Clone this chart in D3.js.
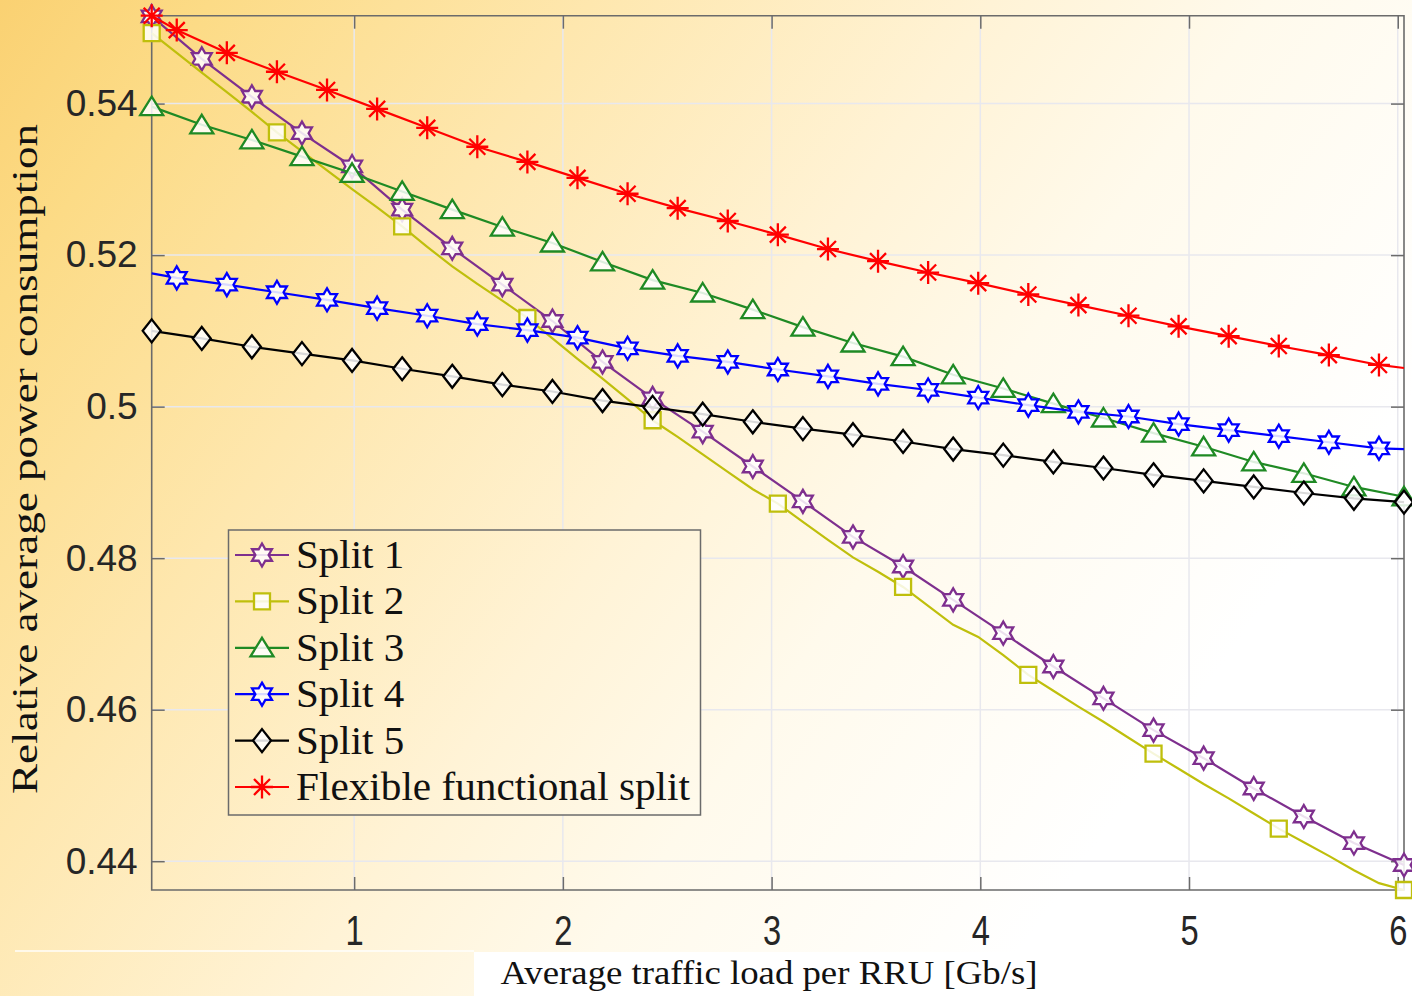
<!DOCTYPE html>
<html>
<head>
<meta charset="utf-8">
<script src="https://cdn.jsdelivr.net/npm/d3@7"></script>
<style>
  html, body { margin: 0; padding: 0; background: #fff; }
  svg { display: block; }
</style>
</head>
<body>
<svg id="chart"></svg>
<script>
const W = 1412;
const H = 996;

// x positions of the samples (Gb/s)
const xGrid = [0.03, 0.27, 0.51, 0.75, 0.99, 1.23, 1.47, 1.71, 1.95, 2.19, 2.43, 2.67, 2.91,
  3.15, 3.39, 3.63, 3.87, 4.11, 4.35, 4.59, 4.83, 5.07, 5.31, 5.55, 5.79, 6.03];
const xHalf = [0.03, 0.15, 0.39, 0.63, 0.87, 1.11, 1.35, 1.59, 1.83, 2.07, 2.31, 2.55, 2.79,
  3.03, 3.27, 3.51, 3.75, 3.99, 4.23, 4.47, 4.71, 4.95, 5.19, 5.43, 5.67, 5.91, 6.03];
const xFine = [0.03, 0.15, 0.27, 0.39, 0.51, 0.63, 0.75, 0.87, 0.99, 1.11, 1.23, 1.35, 1.47,
  1.59, 1.71, 1.83, 1.95, 2.07, 2.19, 2.31, 2.43, 2.55, 2.67, 2.79, 2.91, 3.03, 3.15, 3.27,
  3.39, 3.51, 3.63, 3.75, 3.87, 3.99, 4.11, 4.23, 4.35, 4.47, 4.59, 4.71, 4.83, 4.95, 5.07,
  5.19, 5.31, 5.43, 5.55, 5.67, 5.79, 5.91, 6.03];

const split1 = [0.5515, 0.5459, 0.5409, 0.5361, 0.5317, 0.5260, 0.5209, 0.5161, 0.5113, 0.5059,
  0.5011, 0.4967, 0.4921, 0.4875, 0.4828, 0.4789, 0.4745, 0.4701, 0.4657, 0.4615, 0.4573,
  0.4536, 0.4496, 0.4459, 0.4424, 0.4395];
const split2 = [0.5493, 0.5467, 0.5441, 0.5415, 0.5389, 0.5362, 0.5337, 0.5312, 0.5287, 0.5263,
  0.5238, 0.5211, 0.5185, 0.5162, 0.5140, 0.5117, 0.5090, 0.5063, 0.5037, 0.5010, 0.4982,
  0.4960, 0.4937, 0.4914, 0.4891, 0.4872, 0.4848, 0.4824, 0.4801, 0.4782, 0.4762, 0.4737,
  0.4712, 0.4696, 0.4672, 0.4646, 0.4625, 0.4604, 0.4584, 0.4563, 0.4542, 0.4522, 0.4502,
  0.4483, 0.4463, 0.4443, 0.4425, 0.4407, 0.4388, 0.4371, 0.4362];
const split3 = [0.5396, 0.5372, 0.5352, 0.5330, 0.5308, 0.5284, 0.5260, 0.5237, 0.5216, 0.5191,
  0.5167, 0.5150, 0.5128, 0.5105, 0.5084, 0.5066, 0.5042, 0.5024, 0.5004, 0.4985, 0.4965,
  0.4947, 0.4927, 0.4912, 0.4894, 0.4881];
const split4 = [0.5176, 0.5170, 0.5161, 0.5151, 0.5141, 0.5130, 0.5120, 0.5109, 0.5101, 0.5091,
  0.5077, 0.5067, 0.5059, 0.5049, 0.5040, 0.5030, 0.5022, 0.5012, 0.5002, 0.4993, 0.4987,
  0.4977, 0.4969, 0.4961, 0.4953, 0.4945, 0.4944];
const split5 = [0.5100, 0.5090, 0.5079, 0.5070, 0.5061, 0.5050, 0.5040, 0.5029, 0.5020, 0.5008,
  0.4999, 0.4990, 0.4980, 0.4971, 0.4963, 0.4954, 0.4944, 0.4936, 0.4927, 0.4919, 0.4910,
  0.4902, 0.4894, 0.4886, 0.4879, 0.4874];
const flexible = [0.5516, 0.5497, 0.5467, 0.5442, 0.5418, 0.5393, 0.5368, 0.5343, 0.5323, 0.5302,
  0.5281, 0.5262, 0.5245, 0.5227, 0.5208, 0.5192, 0.5177, 0.5163, 0.5148, 0.5134, 0.5120,
  0.5106, 0.5093, 0.5080, 0.5068, 0.5055, 0.5051];

const seriesNames = ['Split 1', 'Split 2', 'Split 3', 'Split 4', 'Split 5', 'Flexible functional split'];
const xTicks = [1, 2, 3, 4, 5, 6];
const yTicks = [0.44, 0.46, 0.48, 0.5, 0.52, 0.54];

// styling per series: which markers are shown
const series = [
  {name: seriesNames[0], xs: xGrid, ys: split1, color: '#7e2f8e', sym: 'hexagram', mark: i => true},
  {name: seriesNames[1], xs: xFine, ys: split2, color: '#bfbf0c', sym: 'square', mark: i => i % 5 == 0},
  {name: seriesNames[2], xs: xGrid, ys: split3, color: '#1f8a24', sym: 'triangle', mark: i => true},
  {name: seriesNames[3], xs: xHalf, ys: split4, color: '#0000ff', sym: 'hexagram', mark: i => i > 0 && i < xHalf.length - 1},
  {name: seriesNames[4], xs: xGrid, ys: split5, color: '#000000', sym: 'diamond', mark: i => true},
  {name: seriesNames[5], xs: xHalf, ys: flexible, color: '#ff0000', sym: 'asterisk', mark: i => i < xHalf.length - 1}
];

const plotL = 151.7, plotR = 1404, plotT = 15.7, plotB = 890;

const x = d3.scaleLinear().domain([0.03, 6.03]).range([plotL, plotR]);
const y = d3.scaleLinear().domain([0.4362, 0.5516]).range([plotB, plotT]);

const svg = d3.select('#chart').attr('width', W).attr('height', H);

// background gradient
const defs = svg.append('defs');
const grad = defs.append('linearGradient')
  .attr('id', 'bg')
  .attr('gradientUnits', 'userSpaceOnUse')
  .attr('x1', 0).attr('y1', 0).attr('x2', W).attr('y2', H);
[[0, '#fad172'], [0.1, '#fcdb86'], [0.28, '#fee7ae'], [0.47, '#fff3d6'], [0.6, '#fffaec'], [0.8, '#ffffff']]
  .forEach(s => grad.append('stop').attr('offset', s[0]).attr('stop-color', s[1]));

svg.append('rect').attr('width', W).attr('height', H).attr('fill', 'url(#bg)');
svg.append('rect').attr('x', 474).attr('y', 952).attr('width', W - 474).attr('height', H - 952).attr('fill', '#fff');
svg.append('line').attr('x1', 15).attr('x2', 474).attr('y1', 951).attr('y2', 951)
  .attr('stroke', '#fff').attr('stroke-opacity', 0.7).attr('stroke-width', 2);

// grid
const grid = svg.append('g');
grid.selectAll('.gx').data(xTicks).join('line')
  .attr('x1', d => x(d)).attr('x2', d => x(d)).attr('y1', plotT).attr('y2', plotB)
  .attr('stroke', '#e8e8ee').attr('stroke-width', 1.5);
grid.selectAll('.gy').data(yTicks).join('line')
  .attr('x1', plotL).attr('x2', plotR).attr('y1', d => y(d)).attr('y2', d => y(d))
  .attr('stroke', '#e8e8ee').attr('stroke-width', 1.5);

// axes, ticks inside like MATLAB
const fmt = d => String(+d.toFixed(2));
const axisColor = '#6b6b6b';

function styleAxis(g) {
  g.select('.domain').remove();
  g.selectAll('.tick line').attr('stroke', axisColor).attr('stroke-width', 1.5);
  g.selectAll('.tick text').attr('fill', '#262626').attr('font-family', '"Liberation Sans", Arial, sans-serif');
}

svg.append('g').attr('transform', `translate(0,${plotB})`)
  .call(d3.axisBottom(x).tickValues(xTicks).tickFormat(fmt).tickSize(-13).tickPadding(23))
  .call(styleAxis)
  .call(g => g.selectAll('.tick text').attr('font-size', 38).attr('transform', 'scale(0.86,1.1)'));

svg.append('g').attr('transform', `translate(0,${plotT})`)
  .call(d3.axisTop(x).tickValues(xTicks).tickFormat('').tickSize(-13))
  .call(styleAxis);

svg.append('g').attr('transform', `translate(${plotL},0)`)
  .call(d3.axisLeft(y).tickValues(yTicks).tickFormat(fmt).tickSize(-13).tickPadding(14))
  .call(styleAxis)
  .call(g => g.selectAll('.tick text').attr('font-size', 37));

svg.append('g').attr('transform', `translate(${plotR},0)`)
  .call(d3.axisRight(y).tickValues(yTicks).tickFormat('').tickSize(-13))
  .call(styleAxis);

svg.append('path')
  .attr('d', `M${plotL},${plotT}H${plotR}V${plotB}H${plotL}Z`)
  .attr('fill', 'none').attr('stroke', axisColor).attr('stroke-width', 1.6);

// markers
function markerPath(sym) {
  if (sym == 'hexagram') {
    const R = 11.5, r = R / Math.sqrt(3);
    let p = [];
    for (let i = 0; i < 12; i++) {
      const a = -Math.PI / 2 + i * Math.PI / 6;
      const rr = i % 2 == 0 ? R : r;
      p.push([rr * Math.cos(a), rr * Math.sin(a)]);
    }
    return 'M' + p.map(q => q[0].toFixed(2) + ',' + q[1].toFixed(2)).join('L') + 'Z';
  }
  if (sym == 'square') return 'M-8,-8H8V8H-8Z';
  if (sym == 'triangle') return 'M0,-10L11.5,8.5L-11.5,8.5Z';
  if (sym == 'diamond') return 'M0,-11.5L9,0L0,11.5L-9,0Z';
  return 'M0,-11.5V11.5M-11,0H11M-8,-8L8,8M-8,8L8,-8';
}

function drawMarker(g, s, cx, cy) {
  g.append('path')
    .attr('transform', `translate(${cx},${cy})`)
    .attr('d', markerPath(s.sym))
    .attr('fill', s.sym == 'asterisk' ? 'none' : '#fff')
    .attr('fill-opacity', 0.85)
    .attr('stroke', s.color)
    .attr('stroke-width', 2.3);
}

const line = d3.line().x(d => x(d[0])).y(d => y(d[1]));

series.forEach(s => {
  const pts = s.xs.map((xv, i) => [xv, s.ys[i]]);
  const g = svg.append('g');
  g.append('path').datum(pts)
    .attr('d', line)
    .attr('fill', 'none')
    .attr('stroke', s.color)
    .attr('stroke-width', 2.2);
  pts.forEach((p, i) => { if (s.mark(i)) drawMarker(g, s, x(p[0]), y(p[1])); });
});

// legend
const lg = svg.append('g');
lg.append('rect')
  .attr('x', 228.5).attr('y', 530).attr('width', 472).attr('height', 285)
  .attr('fill', 'url(#bg)').attr('stroke', '#6b6b6b').attr('stroke-width', 1.5);
series.forEach((s, i) => {
  const cy = 555 + i * 46.4;
  lg.append('line').attr('x1', 235).attr('x2', 289).attr('y1', cy).attr('y2', cy)
    .attr('stroke', s.color).attr('stroke-width', 2.2);
  drawMarker(lg, s, 262, cy);
  const t = lg.append('text').attr('x', 296).attr('y', cy + 13)
    .attr('font-family', '"Liberation Serif", "Times New Roman", serif')
    .attr('font-size', 41).attr('fill', '#111')
    .text(s.name);
  if (i == series.length - 1) t.attr('textLength', 394).attr('lengthAdjust', 'spacingAndGlyphs');
});

// axis titles
svg.append('text')
  .attr('x', 769).attr('y', 984)
  .attr('text-anchor', 'middle')
  .attr('font-family', '"Liberation Serif", "Times New Roman", serif')
  .attr('font-size', 33).attr('fill', '#111')
  .attr('textLength', 537).attr('lengthAdjust', 'spacingAndGlyphs')
  .text('Average traffic load per RRU [Gb/s]');

svg.append('text')
  .attr('transform', 'translate(37,459) rotate(-90)')
  .attr('text-anchor', 'middle')
  .attr('font-family', '"Liberation Serif", "Times New Roman", serif')
  .attr('font-size', 36).attr('fill', '#111')
  .attr('textLength', 670).attr('lengthAdjust', 'spacingAndGlyphs')
  .text('Relative average power consumption');
</script>
</body>
</html>
